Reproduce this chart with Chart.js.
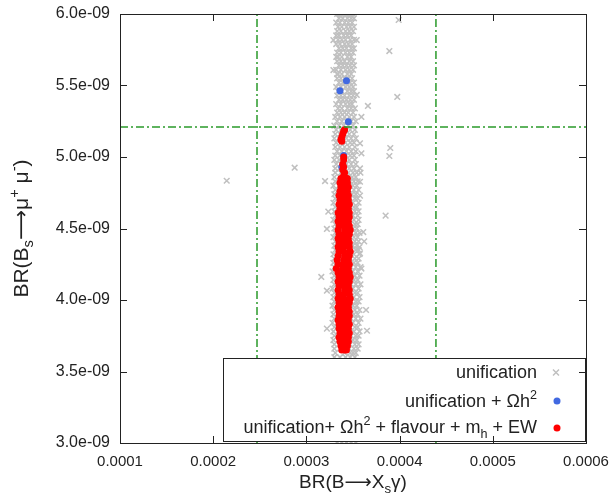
<!DOCTYPE html>
<html>
<head>
<meta charset="utf-8">
<script src="https://cdn.jsdelivr.net/npm/chart.js@4"></script>
<style>
  body { margin: 0; background: #fff; }
  canvas { display: block; }
</style>
</head>
<body>
<canvas id="brChart" width="616" height="499"></canvas>
<script>
  // x values in units of 1e-4 (BR(B->Xs gamma)), y values in units of 1e-9 (BR(Bs->mu mu))
  var xTicks = [1, 2, 3, 4, 5, 6];
  var yTicks = [3.0, 3.5, 4.0, 4.5, 5.0, 5.5, 6.0];

  // experimental bounds (green dash-dot lines)
  var bsgBounds = [2.47, 4.39];
  var bsmumuBound = 5.21;

  // "unification" band, one row per y value: [y, x1 ... x5]
  var unifRows = [
    [6.00, 3.33, 3.37, 3.42, 3.46, 3.50], [5.97, 3.35, 3.39, 3.44, 3.48, 3.51], [5.94, 3.32, 3.36, 3.41, 3.45, 3.49],
    [5.91, 3.34, 3.38, 3.43, 3.47, 3.51], [5.88, 3.33, 3.37, 3.42, 3.46, 3.50], [5.85, 3.35, 3.40, 3.44, 3.48, 3.32],
    [5.82, 3.34, 3.38, 3.42, 3.47, 3.51], [5.79, 3.32, 3.36, 3.41, 3.45, 3.49], [5.76, 3.35, 3.39, 3.43, 3.48, 3.51],
    [5.73, 3.33, 3.37, 3.42, 3.46, 3.50], [5.70, 3.34, 3.38, 3.44, 3.48, 3.32], [5.67, 3.33, 3.37, 3.41, 3.46, 3.50],
    [5.64, 3.35, 3.39, 3.43, 3.47, 3.51], [5.61, 3.32, 3.37, 3.42, 3.46, 3.50], [5.58, 3.34, 3.38, 3.44, 3.48, 3.33],
    [5.55, 3.33, 3.37, 3.41, 3.45, 3.49], [5.52, 3.35, 3.39, 3.43, 3.47, 3.51], [5.49, 3.32, 3.37, 3.42, 3.46, 3.50],
    [5.46, 3.34, 3.38, 3.44, 3.48, 3.51], [5.43, 3.33, 3.37, 3.41, 3.46, 3.50], [5.40, 3.35, 3.39, 3.43, 3.47, 3.51],
    [5.37, 3.32, 3.37, 3.42, 3.46, 3.49], [5.34, 3.34, 3.38, 3.44, 3.48, 3.52], [5.31, 3.33, 3.37, 3.41, 3.45, 3.50],
    [5.28, 3.31, 3.36, 3.41, 3.46, 3.51], [5.25, 3.33, 3.38, 3.43, 3.48, 3.53], [5.22, 3.30, 3.35, 3.40, 3.45, 3.50],
    [5.19, 3.32, 3.37, 3.42, 3.47, 3.52], [5.16, 3.31, 3.36, 3.41, 3.46, 3.51], [5.13, 3.30, 3.35, 3.43, 3.48, 3.53],
    [5.10, 3.32, 3.37, 3.42, 3.47, 3.51], [5.07, 3.31, 3.36, 3.41, 3.46, 3.52], [5.04, 3.33, 3.38, 3.43, 3.48, 3.53],
    [5.01, 3.31, 3.36, 3.42, 3.47, 3.51], [4.98, 3.30, 3.35, 3.41, 3.46, 3.52], [4.95, 3.32, 3.37, 3.43, 3.48, 3.53],
    [4.92, 3.31, 3.36, 3.41, 3.46, 3.51], [4.89, 3.31, 3.37, 3.45, 3.50, 3.54], [4.86, 3.30, 3.36, 3.43, 3.49, 3.53],
    [4.83, 3.31, 3.40, 3.47, 3.51, 3.55], [4.80, 3.29, 3.35, 3.44, 3.50, 3.54], [4.77, 3.31, 3.38, 3.46, 3.51, 3.56],
    [4.74, 3.30, 3.36, 3.44, 3.49, 3.53], [4.71, 3.31, 3.40, 3.47, 3.52, 3.55], [4.68, 3.29, 3.35, 3.45, 3.50, 3.56],
    [4.65, 3.31, 3.38, 3.46, 3.51, 3.54], [4.62, 3.30, 3.37, 3.47, 3.52, 3.56], [4.59, 3.31, 3.41, 3.48, 3.50, 3.55],
    [4.56, 3.29, 3.35, 3.45, 3.51, 3.56], [4.53, 3.31, 3.38, 3.47, 3.52, 3.55], [4.50, 3.30, 3.36, 3.46, 3.50, 3.54],
    [4.47, 3.31, 3.40, 3.48, 3.53, 3.57], [4.44, 3.29, 3.35, 3.45, 3.51, 3.55], [4.41, 3.31, 3.38, 3.47, 3.52, 3.56],
    [4.38, 3.30, 3.37, 3.46, 3.50, 3.54], [4.35, 3.31, 3.41, 3.48, 3.53, 3.56], [4.32, 3.29, 3.35, 3.45, 3.51, 3.57],
    [4.29, 3.30, 3.38, 3.47, 3.52, 3.56], [4.26, 3.29, 3.36, 3.46, 3.51, 3.55], [4.23, 3.30, 3.40, 3.48, 3.53, 3.58],
    [4.20, 3.28, 3.35, 3.45, 3.50, 3.55], [4.17, 3.30, 3.38, 3.47, 3.52, 3.57], [4.14, 3.29, 3.37, 3.46, 3.51, 3.55],
    [4.11, 3.30, 3.41, 3.48, 3.53, 3.58], [4.08, 3.28, 3.35, 3.45, 3.50, 3.56], [4.05, 3.30, 3.38, 3.47, 3.52, 3.55],
    [4.02, 3.29, 3.36, 3.46, 3.51, 3.57], [3.99, 3.30, 3.40, 3.48, 3.53, 3.56], [3.96, 3.28, 3.35, 3.45, 3.50, 3.54],
    [3.93, 3.30, 3.38, 3.47, 3.52, 3.57], [3.90, 3.29, 3.37, 3.46, 3.51, 3.55], [3.87, 3.30, 3.41, 3.48, 3.53, 3.58],
    [3.84, 3.28, 3.35, 3.45, 3.50, 3.56], [3.81, 3.30, 3.38, 3.47, 3.52, 3.55], [3.78, 3.29, 3.36, 3.46, 3.51, 3.57],
    [3.75, 3.30, 3.40, 3.48, 3.53, 3.56], [3.72, 3.29, 3.35, 3.45, 3.50, 3.54], [3.69, 3.30, 3.38, 3.47, 3.52, 3.56],
    [3.66, 3.30, 3.37, 3.46, 3.51, 3.55], [3.63, 3.31, 3.41, 3.47, 3.50, 3.53], [3.60, 3.30, 3.36, 3.42, 3.47, 3.52],
    [3.57, 3.32, 3.37, 3.42, 3.46, 3.51], [3.54, 3.31, 3.36, 3.41, 3.45, 3.50], [3.51, 3.33, 3.38, 3.43, 3.47, 3.52],
    [3.45, 3.32, 3.37, 3.42, 3.47, 3.51], [3.39, 3.31, 3.36, 3.41, 3.46, 3.50], [3.33, 3.33, 3.38, 3.43, 3.48, 3.52],
    [3.27, 3.32, 3.37, 3.42, 3.47, 3.51], [3.21, 3.31, 3.36, 3.41, 3.46, 3.50], [3.15, 3.33, 3.38, 3.43, 3.48, 3.52],
    [3.09, 3.32, 3.37, 3.42, 3.47, 3.51], [3.03, 3.32, 3.37, 3.42, 3.47, 3.52], [3.00, 3.33, 3.38, 3.43, 3.48, 3.53]
  ];
  // scattered "unification" points away from the band: [x, y]
  var unifOutliers = [
    [2.145, 4.834], [2.874, 4.925], [3.20, 4.832], [3.235, 4.618], [3.22, 4.497], [3.16, 4.161],
    [3.22, 4.065], [3.22, 3.80], [3.99, 5.958], [3.89, 5.741], [3.975, 5.42], [3.66, 5.357],
    [3.59, 5.28], [3.90, 5.063], [3.89, 5.007], [3.59, 5.026], [3.575, 5.096], [3.58, 4.89],
    [3.575, 4.92], [3.575, 4.827], [3.575, 4.73], [3.85, 4.59], [3.61, 4.475], [3.62, 4.41],
    [3.575, 4.327], [3.57, 4.37], [3.59, 4.22], [3.64, 3.93], [3.65, 3.785], [3.29, 5.818],
    [3.29, 5.608], [3.54, 5.818], [3.54, 5.434]
  ];

  // "unification + Omega h^2": [x, y]
  var omegaPoints = [
    [3.43, 5.534], [3.36, 5.464], [3.45, 5.247], [3.40, 5.01], [3.38, 4.93], [3.42, 4.80],
    [3.37, 4.60], [3.45, 4.40], [3.36, 4.20], [3.44, 4.00], [3.39, 3.80], [3.41, 3.70]
  ];

  // "unification + Omega h^2 + flavour + m_h + EW": sparse top points [x, y]
  var allTop = [
    [3.41, 5.19], [3.40, 5.18], [3.39, 5.16], [3.38, 5.14], [3.37, 5.12], [3.38, 5.11],
    [3.40, 5.00], [3.40, 4.98], [3.39, 4.95], [3.40, 4.93], [3.39, 4.91], [3.41, 4.89], [3.40, 4.87]
  ];
  // dense part, one row per y value: [y, x1, x2, x3]
  var allRows = [
    [4.85, 3.37, 3.41, 3.44], [4.82, 3.36, 3.40, 3.44], [4.79, 3.37, 3.41, 3.45], [4.76, 3.36, 3.40, 3.44],
    [4.73, 3.35, 3.40, 3.45], [4.70, 3.36, 3.41, 3.45], [4.67, 3.35, 3.40, 3.46], [4.64, 3.36, 3.41, 3.45],
    [4.61, 3.34, 3.40, 3.46], [4.58, 3.35, 3.41, 3.46], [4.55, 3.34, 3.40, 3.45], [4.52, 3.35, 3.40, 3.46],
    [4.49, 3.34, 3.41, 3.47], [4.46, 3.35, 3.40, 3.46], [4.43, 3.34, 3.40, 3.45], [4.40, 3.35, 3.41, 3.46],
    [4.37, 3.34, 3.40, 3.46], [4.34, 3.35, 3.40, 3.47], [4.31, 3.34, 3.41, 3.46], [4.28, 3.33, 3.40, 3.45],
    [4.25, 3.34, 3.40, 3.46], [4.22, 3.32, 3.39, 3.45], [4.19, 3.34, 3.40, 3.46], [4.16, 3.35, 3.41, 3.47],
    [4.13, 3.34, 3.40, 3.46], [4.10, 3.35, 3.40, 3.45], [4.07, 3.34, 3.41, 3.46], [4.04, 3.35, 3.40, 3.46],
    [4.01, 3.34, 3.40, 3.47], [3.98, 3.35, 3.41, 3.46], [3.95, 3.34, 3.40, 3.45], [3.92, 3.35, 3.40, 3.46],
    [3.89, 3.35, 3.41, 3.46], [3.86, 3.34, 3.40, 3.45], [3.83, 3.35, 3.40, 3.46], [3.80, 3.35, 3.41, 3.45],
    [3.77, 3.36, 3.40, 3.46], [3.74, 3.35, 3.40, 3.45], [3.71, 3.36, 3.41, 3.45], [3.68, 3.37, 3.40, 3.44],
    [3.65, 3.38, 3.41, 3.43]
  ];

  var FONT = '"Liberation Sans", "DejaVu Sans", Arial, sans-serif';
  var GREY = '#c0c0c0', BLUE = '#4169e1', RED = '#ff0000', GREEN = '#2a9a2a';

  function rowsToPoints(rows) {
    var pts = [];
    rows.forEach(function (r) {
      r.slice(1).forEach(function (x) { pts.push({ x: x, y: r[0] }); });
    });
    return pts;
  }
  function pairsToPoints(pairs) {
    return pairs.map(function (p) { return { x: p[0], y: p[1] }; });
  }

  var unifData = rowsToPoints(unifRows).concat(pairsToPoints(unifOutliers));
  var omegaData = pairsToPoints(omegaPoints);
  var allData = pairsToPoints(allTop).concat(rowsToPoints(allRows));

  // text with sub/superscripts, drawn on the canvas
  function richWidth(ctx, segs, size) {
    var w = 0;
    segs.forEach(function (s) {
      ctx.font = (s.sub || s.sup ? size * 0.7 : size) + 'px ' + FONT;
      w += ctx.measureText(s.t).width;
    });
    return w;
  }
  function drawRich(ctx, segs, x, y, size, align) {
    var w = richWidth(ctx, segs, size);
    var cx = align === 'right' ? x - w : (align === 'center' ? x - w / 2 : x);
    ctx.textBaseline = 'alphabetic';
    ctx.textAlign = 'left';
    segs.forEach(function (s) {
      ctx.font = (s.sub || s.sup ? size * 0.7 : size) + 'px ' + FONT;
      var dy = s.sub ? size * 0.25 : (s.sup ? -size * 0.42 : 0);
      ctx.fillText(s.t, cx, y + dy);
      cx += ctx.measureText(s.t).width;
    });
  }

  var xTitle = [{ t: 'BR(B\u27f6X' }, { t: 's', sub: true }, { t: '\u03b3)' }];
  var yTitle = [{ t: 'BR(B' }, { t: 's', sub: true }, { t: '\u27f6\u03bc' }, { t: '+', sup: true },
                { t: ' \u03bc' }, { t: '-', sup: true }, { t: ')' }];
  var legendItems = [
    { segs: [{ t: 'unification' }], style: 'cross', color: GREY },
    { segs: [{ t: 'unification + \u03a9h' }, { t: '2', sup: true }], style: 'dot', color: BLUE },
    { segs: [{ t: 'unification+ \u03a9h' }, { t: '2', sup: true }, { t: ' + flavour + m' }, { t: 'h', sub: true },
             { t: ' + EW' }], style: 'dot', color: RED }
  ];

  var framePlugin = {
    id: 'frame',
    afterDatasetsDraw: function (chart) {
      var ctx = chart.ctx, a = chart.chartArea;
      var xs = chart.scales.x, ys = chart.scales.y;
      ctx.save();

      // key box
      var bx = 223, by = 358, bw = a.right - 223, bh = 83;
      ctx.fillStyle = '#fff';
      ctx.fillRect(bx, by, bw, bh);
      ctx.strokeStyle = '#222';
      ctx.lineWidth = 1;
      ctx.strokeRect(bx + 0.5, by + 0.5, bw - 1, bh);
      var rowY = [378, 407, 433];
      var markY = [372.5, 401, 428];
      legendItems.forEach(function (it, i) {
        ctx.fillStyle = '#222';
        drawRich(ctx, it.segs, 537, rowY[i], 18, 'right');
        if (it.style === 'cross') {
          ctx.strokeStyle = it.color;
          ctx.lineWidth = 1.5;
          ctx.beginPath();
          ctx.moveTo(553, markY[i] - 3); ctx.lineTo(559, markY[i] + 3);
          ctx.moveTo(553, markY[i] + 3); ctx.lineTo(559, markY[i] - 3);
          ctx.stroke();
        } else {
          ctx.fillStyle = it.color;
          ctx.beginPath();
          ctx.arc(557, markY[i], 3.5, 0, Math.PI * 2);
          ctx.fill();
        }
      });

      // border with inward ticks on all four sides
      ctx.strokeStyle = '#222';
      ctx.lineWidth = 1;
      ctx.strokeRect(a.left + 0.5, a.top + 0.5, a.right - a.left, a.bottom - a.top);
      ctx.beginPath();
      xTicks.forEach(function (v) {
        var px = Math.round(xs.getPixelForValue(v)) + 0.5;
        ctx.moveTo(px, a.bottom); ctx.lineTo(px, a.bottom - 7);
        ctx.moveTo(px, a.top); ctx.lineTo(px, a.top + 7);
      });
      yTicks.forEach(function (v) {
        var py = Math.round(ys.getPixelForValue(v)) + 0.5;
        ctx.moveTo(a.left, py); ctx.lineTo(a.left + 7, py);
        ctx.moveTo(a.right, py); ctx.lineTo(a.right - 7, py);
      });
      ctx.stroke();

      // axis titles
      ctx.fillStyle = '#222';
      drawRich(ctx, xTitle, (a.left + a.right) / 2, 488, 19, 'center');
      ctx.translate(28, (a.top + a.bottom) / 2);
      ctx.rotate(-Math.PI / 2);
      drawRich(ctx, yTitle, 0, 0, 21, 'center');
      ctx.restore();
    }
  };

  var dashed = [8, 3, 2, 3];
  var ctx = document.getElementById('brChart').getContext('2d');
  var brChart = new Chart(ctx, {
    type: 'scatter',
    data: {
      datasets: [
        { label: 'unification', data: unifData, order: 3, pointStyle: 'crossRot', pointRadius: 4,
          borderColor: GREY, backgroundColor: GREY, borderWidth: 1.5 },
        { label: 'unification + Ωh2', data: omegaData, order: 2, pointStyle: 'circle', pointRadius: 3.5,
          borderWidth: 0, backgroundColor: BLUE, borderColor: BLUE },
        { label: 'unification+ Ωh2 + flavour + mh + EW', data: allData, order: 1, pointStyle: 'circle',
          pointRadius: 3.5, borderWidth: 0, backgroundColor: RED, borderColor: RED },
        { label: 'bsg low', data: [{ x: bsgBounds[0], y: yTicks[0] }, { x: bsgBounds[0], y: yTicks[yTicks.length - 1] }],
          showLine: true, pointRadius: 0, borderColor: GREEN, borderWidth: 1.5, borderDash: dashed, order: 0 },
        { label: 'bsg high', data: [{ x: bsgBounds[1], y: yTicks[0] }, { x: bsgBounds[1], y: yTicks[yTicks.length - 1] }],
          showLine: true, pointRadius: 0, borderColor: GREEN, borderWidth: 1.5, borderDash: dashed, order: 0 },
        { label: 'bsmumu', data: [{ x: xTicks[0], y: bsmumuBound }, { x: xTicks[xTicks.length - 1], y: bsmumuBound }],
          showLine: true, pointRadius: 0, borderColor: GREEN, borderWidth: 1.5, borderDash: dashed, order: 0 }
      ]
    },
    options: {
      responsive: false,
      animation: false,
      devicePixelRatio: 1,
      layout: { padding: { top: 14, right: 30, left: 0, bottom: 0 } },
      plugins: { legend: { display: false }, tooltip: { enabled: false } },
      scales: {
        x: {
          type: 'linear', min: 1, max: 6,
          afterFit: function (s) { s.height = 56; s.paddingLeft = 0; s.paddingRight = 0; },
          grid: { display: false, drawTicks: false },
          border: { display: false },
          ticks: {
            stepSize: 1, padding: 10, maxRotation: 0, autoSkip: false, color: '#222',
            font: { family: FONT, size: 15 },
            callback: function (v) { return (v * 1e-4).toFixed(4); }
          }
        },
        y: {
          type: 'linear', min: 3, max: 6,
          afterFit: function (s) { s.width = 120; s.paddingTop = 0; s.paddingBottom = 0; },
          grid: { display: false, drawTicks: false },
          border: { display: false },
          ticks: {
            stepSize: 0.5, padding: 10, color: '#222',
            font: { family: FONT, size: 16 },
            callback: function (v) { return v.toFixed(1) + 'e-09'; }
          }
        }
      }
    },
    plugins: [framePlugin]
  });
</script>
</body>
</html>
